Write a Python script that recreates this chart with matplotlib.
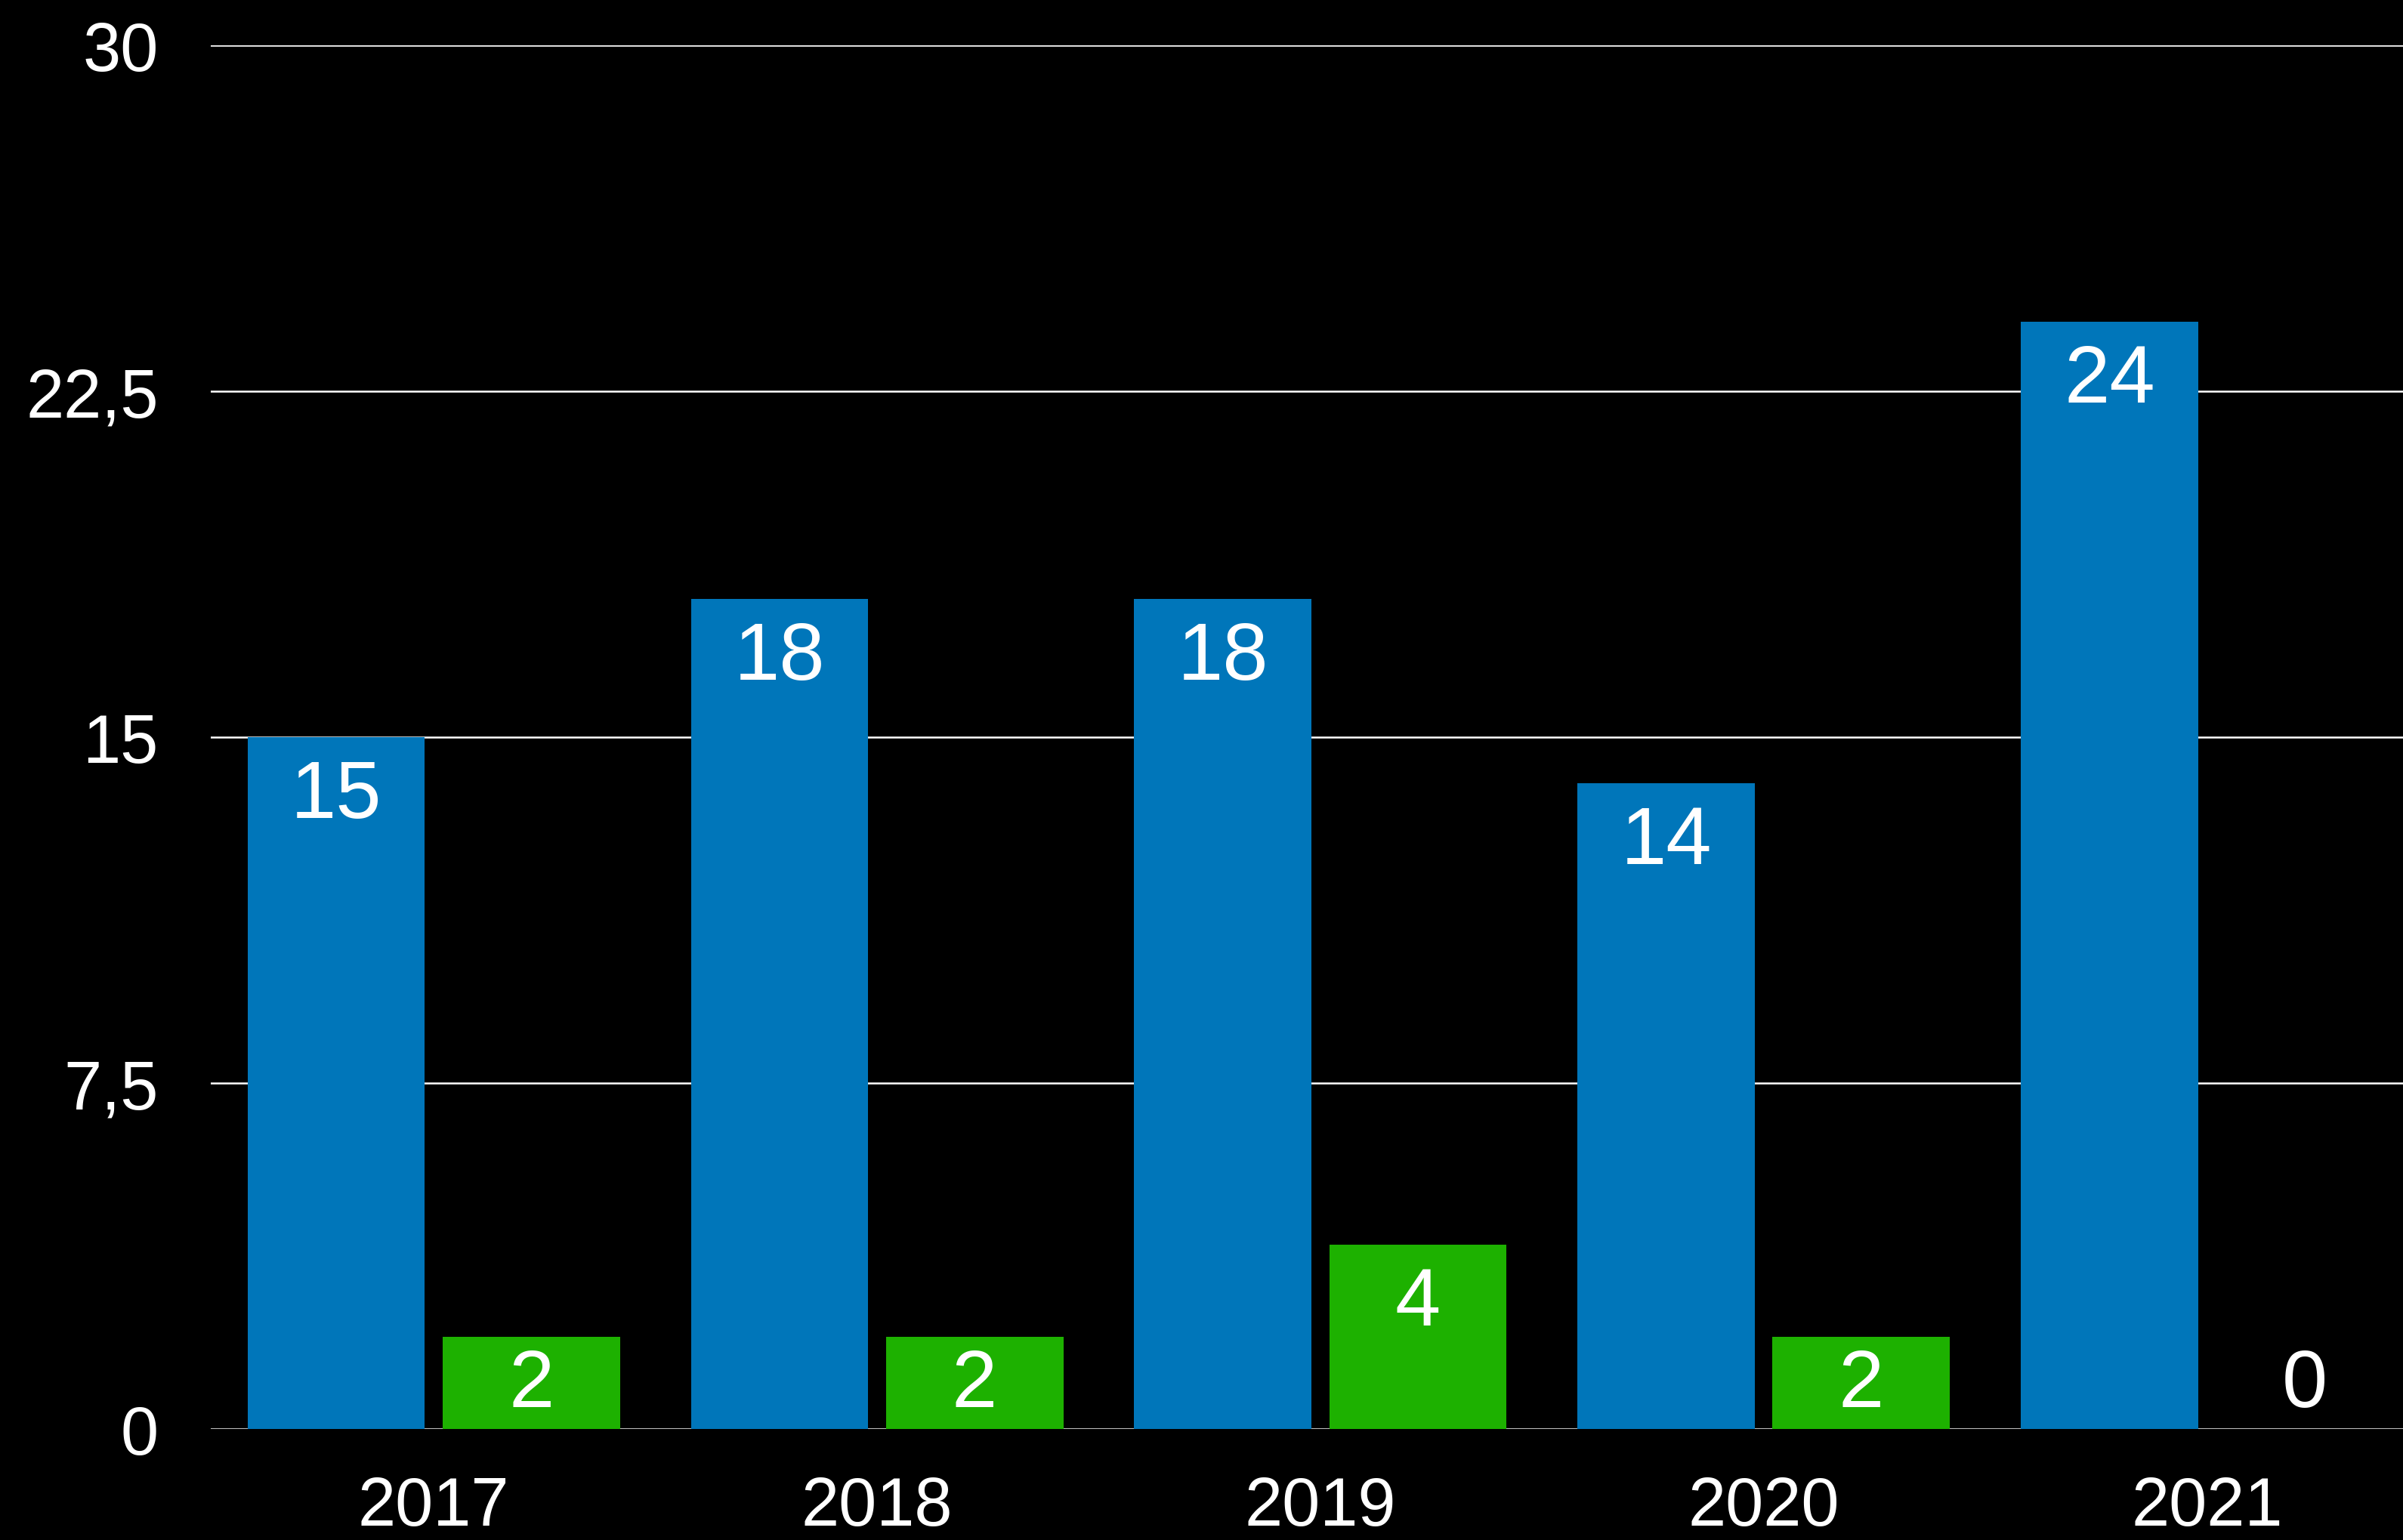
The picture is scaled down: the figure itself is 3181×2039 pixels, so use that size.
import matplotlib
matplotlib.use("Agg")
import matplotlib.pyplot as plt
import numpy as np

years = ["2017", "2018", "2019", "2020", "2021"]
blue_vals = [15, 18, 18, 14, 24]
green_vals = [2, 2, 4, 2, 0]
y_ticks = [0, 7.5, 15, 22.5, 30]
y_tick_labels = ["0", "7,5", "15", "22,5", "30"]

blue = "#0076BA"
green = "#1DB100"

plt.rcParams['font.family'] = ['Liberation Sans', 'DejaVu Sans']

fig = plt.figure(figsize=(31.81, 20.40), dpi=100, facecolor="black")
ax = fig.add_axes([279 / 3181, 1 - 1893 / 2040, 1 - 279 / 3181, (1893 - 61) / 2040])
ax.set_facecolor("black")

x = np.arange(len(years))
w = 0.40
off = 0.22
b1 = ax.bar(x - off, blue_vals, w, color=blue, zorder=3)
b2 = ax.bar(x + off, green_vals, w, color=green, zorder=3)


def put_labels(bars, vals):
    for rect, v in zip(bars, vals):
        cx = rect.get_x() + rect.get_width() / 2
        # label sits just inside the top, or centred when the bar is short
        if v * 61 > 140:
            ax.annotate(str(v), (cx, v), xytext=(0, -56), textcoords="offset points",
                        ha="center", va="center", color="white", fontsize=78, zorder=4)
        else:
            ax.annotate(str(v), (cx, 0), xytext=(0, 42), textcoords="offset points",
                        ha="center", va="center", color="white", fontsize=78, zorder=4)


put_labels(b1, blue_vals)
put_labels(b2, green_vals)

ax.set_ylim(0, 30)
ax.set_xlim(-0.503, 4.442)
ax.set_yticks(y_ticks)
ax.set_yticklabels(y_tick_labels)
ax.set_xticks(x)
ax.set_xticklabels(years)
ax.tick_params(axis="both", length=0, colors="white", labelsize=65)
ax.tick_params(axis="y", pad=50)
ax.tick_params(axis="x", pad=44)
ax.yaxis.grid(True, color="white", linewidth=1.8, zorder=0)
ax.set_axisbelow(True)
for s in ax.spines.values():
    s.set_visible(False)

fig.savefig("out.png", dpi=100, facecolor="black")
